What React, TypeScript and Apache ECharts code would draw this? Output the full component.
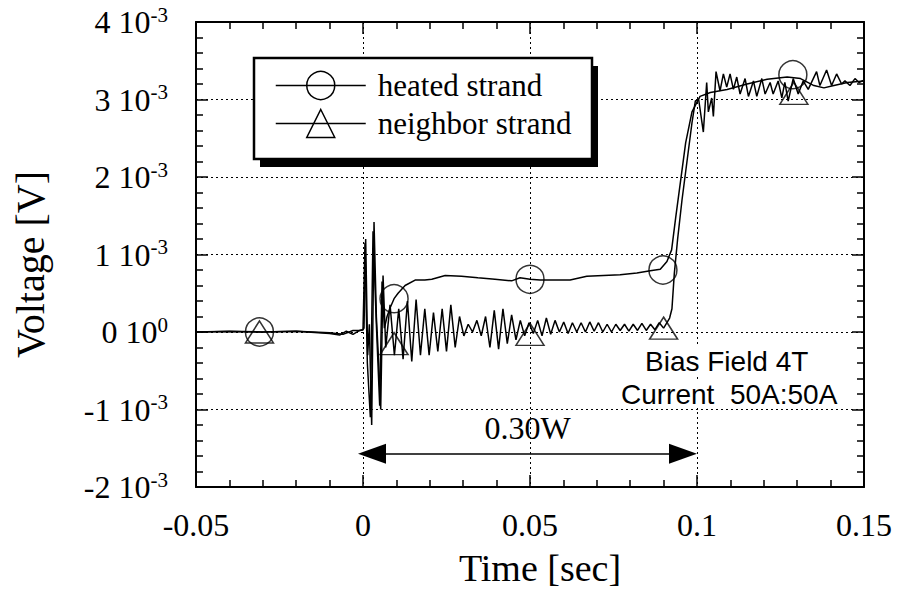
import React, { useEffect, useRef } from "react";
import * as echarts from "echarts";

// Time [s], voltage [10^-3 V]
const heatedTrace: [number, number][] = [
  [-0.05, 0.0], [-0.04, 0.01], [-0.03, 0.0], [-0.02, 0.01], [-0.01, -0.02], [-0.007, -0.04],
  [-0.005, 0.01], [-0.003, -0.03], [-0.001, 0.02], [0.0, 0.03], [0.0006, 1.15], [0.0013, -0.4],
  [0.0022, -1.1], [0.003, 1.3], [0.004, 0.1], [0.005, -0.95], [0.0057, 0.65], [0.0064, 0.05],
  [0.0072, 0.2], [0.0082, 0.32], [0.0093, 0.43], [0.0105, 0.5], [0.0126, 0.6], [0.0156, 0.67],
  [0.0185, 0.67], [0.0206, 0.68], [0.0246, 0.73], [0.0295, 0.72], [0.0344, 0.7], [0.0395, 0.68],
  [0.0445, 0.66], [0.047, 0.7], [0.05, 0.68], [0.053, 0.67], [0.057, 0.67], [0.062, 0.67],
  [0.067, 0.72], [0.072, 0.73], [0.077, 0.74], [0.082, 0.76], [0.086, 0.79], [0.089, 0.81],
  [0.091, 0.91], [0.0924, 1.06], [0.0936, 1.47], [0.0966, 2.44], [0.0985, 2.84], [0.1009, 3.04],
  [0.104, 3.09], [0.109, 3.13], [0.115, 3.2], [0.121, 3.26], [0.127, 3.29], [0.131, 3.27],
  [0.135, 3.18], [0.138, 3.15], [0.141, 3.18], [0.145, 3.22], [0.15, 3.24],
];

const neighborTrace: [number, number][] = [
  [-0.05, 0.0], [-0.04, 0.005], [-0.03, 0.0], [-0.02, 0.01], [-0.01, -0.01], [-0.006, -0.03],
  [-0.003, 0.02], [-0.001, 0.02], [0.0, 0.03], [0.0003, 0.05], [0.0008, 1.2], [0.0014, -0.3],
  [0.0019, 0.1], [0.0026, -1.2], [0.0033, 1.42], [0.004, 0.2], [0.0047, -0.4], [0.0053, -1.0],
  [0.006, 0.73], [0.0068, -0.2], [0.0081, 0.35], [0.0094, -0.3], [0.0107, 0.3], [0.012, -0.35],
  [0.0133, 0.4], [0.0146, -0.38], [0.0159, 0.42], [0.0172, -0.3], [0.0185, 0.3], [0.0198, -0.3],
  [0.0211, 0.25], [0.0224, -0.25], [0.0237, 0.3], [0.025, -0.25], [0.0263, 0.35], [0.0276, -0.2],
  [0.0289, 0.2], [0.0302, -0.05], [0.0315, 0.1], [0.0328, 0.0], [0.0341, 0.15], [0.0354, -0.05],
  [0.0367, 0.2], [0.038, -0.2], [0.0393, 0.28], [0.0406, -0.22], [0.0419, 0.3], [0.0432, -0.15],
  [0.0445, 0.22], [0.0458, -0.1], [0.0471, 0.15], [0.0484, -0.05], [0.0497, 0.12], [0.051, -0.02],
  [0.0523, 0.15], [0.0536, -0.05], [0.0549, 0.18], [0.0562, -0.03], [0.0575, 0.15], [0.0588, 0.0],
  [0.0601, 0.13], [0.0614, -0.02], [0.0627, 0.12], [0.064, 0.0], [0.0653, 0.12], [0.0666, 0.0],
  [0.0679, 0.13], [0.0692, 0.01], [0.0705, 0.12], [0.0718, 0.0], [0.0731, 0.1], [0.0744, 0.0],
  [0.0757, 0.1], [0.077, 0.02], [0.0783, 0.1], [0.0796, 0.01], [0.0809, 0.1], [0.0822, 0.02],
  [0.0835, 0.11], [0.0848, 0.02], [0.0861, 0.1], [0.0874, 0.03], [0.0887, 0.12], [0.09, 0.05],
  [0.091, 0.12], [0.0918, 0.18], [0.0925, 0.3], [0.0932, 0.75], [0.0942, 1.2], [0.0955, 1.7],
  [0.097, 2.2], [0.0985, 2.7], [0.0995, 2.98], [0.1005, 3.0], [0.1019, 2.58], [0.1029, 3.22],
  [0.1034, 2.84], [0.1044, 3.02], [0.1049, 2.78], [0.1057, 3.36], [0.1069, 3.11], [0.1079, 3.33],
  [0.1089, 3.16], [0.1099, 3.33], [0.1109, 3.13], [0.1119, 3.29], [0.1129, 3.07], [0.1144, 3.27],
  [0.1154, 3.04], [0.1169, 3.24], [0.1179, 3.04], [0.1194, 3.27], [0.1204, 3.07], [0.1219, 3.22],
  [0.1228, 3.07], [0.1243, 3.24], [0.1254, 3.02], [0.1263, 3.22], [0.1273, 2.98], [0.1288, 3.27],
  [0.1303, 3.07], [0.1318, 3.24], [0.1333, 3.13], [0.1358, 3.36], [0.1368, 3.18], [0.1388, 3.38],
  [0.1403, 3.18], [0.1418, 3.33], [0.1433, 3.2], [0.1443, 3.24], [0.1458, 3.18], [0.1473, 3.27],
  [0.1485, 3.22], [0.15, 3.25],
];

const heatedMarkers: [number, number][] = [
  [-0.031, 0.0], [0.0093, 0.43], [0.05, 0.68], [0.0898, 0.8], [0.1287, 3.32],
];
const neighborMarkers: [number, number][] = [
  [-0.031, 0.0], [0.0093, -0.15], [0.05, -0.03], [0.09, 0.05], [0.129, 3.08],
];

const seriesNames = ["heated strand", "neighbor strand"];
const heaterArrow: [number, number][] = [[0.0027, -1.57], [0.0958, -1.57]];
const heaterLabel = "0.30W";
const conditionLines = ["Bias Field 4T", "Current  50A:50A"];

const xMin = -0.05, xMax = 0.15, xStep = 0.05;
const yMin = -2, yMax = 4, yStep = 1;

const SERIF = '"Liberation Serif", "Times New Roman", serif';
const SANS = '"Liberation Sans", Arial, sans-serif';

export default function App() {
  const ref = useRef<HTMLDivElement>(null);
  useEffect(() => {
    if (!ref.current) return;
    const chart = echarts.init(ref.current, null, { renderer: "svg" });
    const axisCommon = {
      axisLine: { show: true, onZero: false, lineStyle: { color: "#000", width: 2 } },
      axisTick: { show: true, inside: true, length: 12, lineStyle: { color: "#000", width: 1.5 } },
      minorTick: { show: true, splitNumber: 5, length: 7, lineStyle: { color: "#000", width: 1.5 } },
    };
    const gridLine = { show: true, lineStyle: { color: "#000", type: [2, 3], width: 1 } };
    const option: any = {
      animation: false,
      backgroundColor: "#fff",
      grid: { left: 196, right: 34, top: 22, bottom: 109 },
      xAxis: [
        {
          type: "value", min: xMin, max: xMax, interval: xStep, position: "bottom",
          ...axisCommon,
          splitLine: gridLine,
          axisLabel: {
            margin: 22, fontSize: 32, fontFamily: SERIF, color: "#000",
            formatter: (v: number) => String(Math.round(v * 1000) / 1000),
          },
          name: "Time [sec]", nameLocation: "middle", nameGap: 62,
          nameTextStyle: { fontSize: 38, fontFamily: SERIF, color: "#000", padding: [0, 0, 0, 20] },
        },
        {
          type: "value", min: xMin, max: xMax, interval: xStep, position: "top",
          ...axisCommon, axisLabel: { show: false }, splitLine: { show: false },
        },
      ],
      yAxis: [
        {
          type: "value", min: yMin, max: yMax, interval: yStep, position: "left",
          ...axisCommon,
          splitLine: gridLine,
          axisLabel: {
            margin: 28, color: "#000",
            formatter: (v: number) => {
              const n = Math.round(v);
              return n === 0 ? "{b|0 10}{s|0}" : `{b|${n} 10}{s|-3}`;
            },
            rich: {
              b: { fontSize: 32, fontFamily: SERIF, color: "#000", lineHeight: 36 },
              s: { fontSize: 21, fontFamily: SERIF, color: "#000", verticalAlign: "top", lineHeight: 22 },
            },
          },
          name: "Voltage [V]", nameLocation: "middle", nameGap: 146,
          nameTextStyle: { fontSize: 40, fontFamily: SERIF, color: "#000", padding: [0, 20, 0, 0] },
        },
        {
          type: "value", min: yMin, max: yMax, interval: yStep, position: "right",
          ...axisCommon, axisLabel: { show: false }, splitLine: { show: false },
        },
      ],
      legend: {
        orient: "vertical", left: 275, top: 70, padding: 0,
        itemWidth: 90, itemHeight: 35, itemGap: 7, selectedMode: false,
        textStyle: { fontSize: 31, fontFamily: SERIF, color: "#000", padding: [0, 0, 0, 7] },
        data: [
          { name: seriesNames[0], itemStyle: { color: "transparent", borderColor: "#000", borderWidth: 1.5 }, lineStyle: { color: "#000", width: 1.5 } },
          { name: seriesNames[1], itemStyle: { color: "transparent", borderColor: "#000", borderWidth: 1.5 }, lineStyle: { color: "#000", width: 1.5 } },
        ],
      },
      graphic: [
        { type: "rect", z: 3, shape: { x: 260, y: 66, width: 338, height: 101 }, style: { fill: "#000" } },
        { type: "rect", z: 3, shape: { x: 254, y: 58, width: 338, height: 101 }, style: { fill: "#fff", stroke: "#000", lineWidth: 2.5 } },
        { type: "text", z: 3, left: 645, top: 347, style: { text: conditionLines[0], fontSize: 28, fontFamily: SANS, fill: "#000", backgroundColor: "#fff" } },
        { type: "text", z: 3, left: 621, top: 380, style: { text: conditionLines[1], fontSize: 28, fontFamily: SANS, fill: "#000", backgroundColor: "#fff" } },
      ],
      series: [
        {
          name: seriesNames[0], type: "line", data: heatedTrace, symbol: "circle", showSymbol: false,
          lineStyle: { color: "#000", width: 1.5 }, itemStyle: { color: "#000" }, z: 2,
          markLine: {
            silent: true, symbol: ["triangle", "triangle"], symbolSize: [20, 28],
            lineStyle: { color: "#000", width: 1.5, type: "solid" },
            itemStyle: { color: "#000" },
            label: { show: true, position: "middle", formatter: heaterLabel, fontSize: 32, fontFamily: SERIF, color: "#000", distance: 10 },
            data: [[{ coord: heaterArrow[0] }, { coord: heaterArrow[1] }]],
          },
        },
        {
          name: seriesNames[1], type: "line", data: neighborTrace, symbol: "triangle", showSymbol: false,
          lineStyle: { color: "#000", width: 1.5 }, itemStyle: { color: "#000" }, z: 2,
        },
        {
          name: "heated markers", type: "scatter", data: heatedMarkers, symbol: "circle", symbolSize: 28,
          itemStyle: { color: "transparent", borderColor: "#000", borderWidth: 1.5 }, z: 3,
        },
        {
          name: "neighbor markers", type: "scatter", data: neighborMarkers, symbol: "triangle", symbolSize: [28, 22],
          itemStyle: { color: "transparent", borderColor: "#000", borderWidth: 1.5 }, z: 3,
        },
      ],
    };
    chart.setOption(option);
    return () => chart.dispose();
  }, []);
  return (
    <div
      ref={ref}
      style={{ position: "fixed", left: 0, top: 0, width: 898, height: 596, background: "#fff" }}
    />
  );
}
